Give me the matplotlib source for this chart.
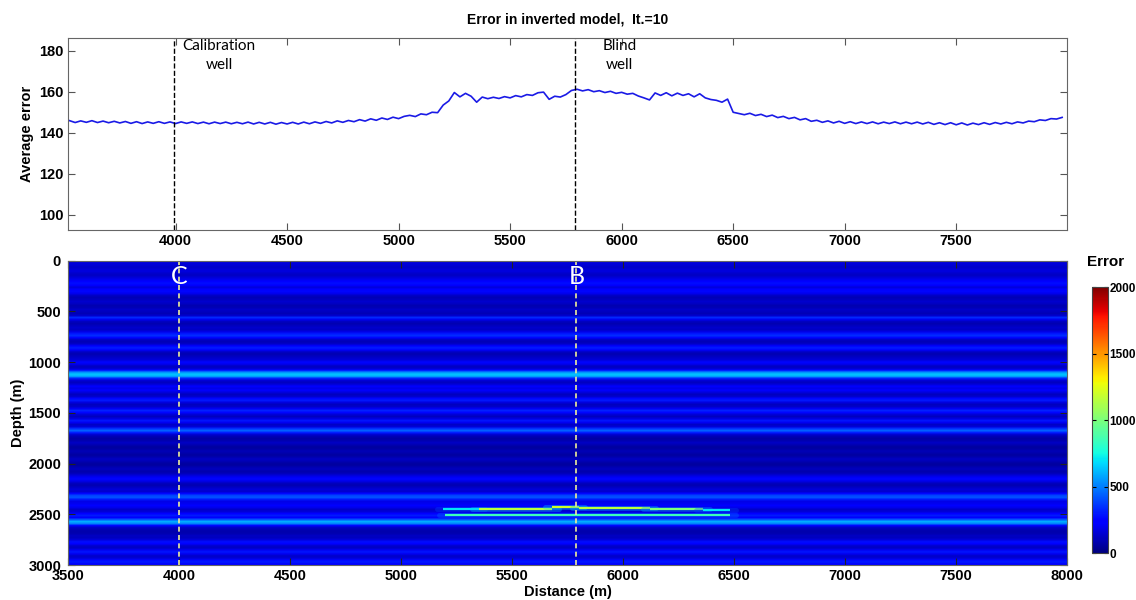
import numpy as np
import matplotlib.pyplot as plt
from matplotlib.colors import Normalize

plt.rcParams['font.family'] = ['Liberation Sans', 'DejaVu Sans']
plt.rcParams['font.weight'] = 'bold'

# average error along the profile, one trace every 25 m from 3525 m
distance = np.arange(3525, 8000, 25)
avg_error = [
    145.9, 145.0, 145.8, 145.1, 145.9, 145.0, 145.7, 144.9, 145.6, 144.8, 145.5,
    144.6, 145.4, 144.5, 145.3, 144.6, 145.4, 144.6, 145.3, 144.5, 145.3,
    144.6, 145.3, 144.5, 145.2, 144.4, 145.2, 144.5, 145.2, 144.4, 145.1,
    144.4, 145.2, 144.3, 145.1, 144.3, 145.1, 144.2, 145.0, 144.3, 145.1,
    144.3, 145.2, 144.4, 145.3, 144.6, 145.5, 144.8, 145.8, 145.1, 146.0,
    145.4, 146.4, 145.7, 146.8, 146.1, 147.2, 146.5, 147.6, 146.9, 148.0,
    148.5, 147.9, 149.2, 148.8, 150.0, 149.8, 153.5, 155.5, 159.6, 157.5,
    159.2, 157.8, 154.9, 157.4, 156.6, 157.3, 156.7, 157.6, 157.0, 158.1,
    157.5, 158.6, 158.2, 159.5, 159.8, 156.3, 157.8, 157.4, 158.6, 160.6,
    161.2, 160.4, 161.0, 160.0, 160.5, 159.6, 160.2, 159.2, 159.7, 158.8,
    159.2, 157.9, 157.0, 156.0, 159.4, 158.2, 159.5, 158.0, 159.3, 158.2,
    159.0, 157.5, 159.0, 157.0, 156.2, 155.8, 154.9, 156.4, 150.0, 149.4,
    148.8, 149.5, 148.4, 149.0, 147.9, 148.6, 147.4, 148.0, 146.9, 147.5,
    146.3, 146.9, 145.6, 146.1, 145.1, 145.8, 144.8, 145.6, 144.6, 145.4,
    144.5, 145.3, 144.5, 145.3, 144.4, 145.2, 144.5, 145.3, 144.4, 145.2,
    144.4, 145.2, 144.3, 145.1, 144.1, 144.9, 144.0, 144.9, 143.9, 144.8,
    143.8, 144.7, 144.0, 144.9, 144.1, 145.0, 144.3, 145.1, 144.4, 145.3,
    144.8, 145.7, 145.4, 146.3, 146.0, 146.9, 146.7, 147.5,
]

# error versus depth, every 20 m from 0 to 3000 m
depth_error = [
    150, 160, 150, 130, 150, 170, 140, 120, 150, 190,
    230, 280, 230, 160, 220, 260, 200, 130, 100, 110,
    140, 120, 90, 100, 130, 110, 100, 140, 330, 200,
    110, 90, 110, 140, 120, 180, 300, 340, 220, 120,
    100, 130, 220, 310, 230, 120, 90, 110, 140, 160,
    260, 200, 120, 130, 260, 520, 640, 600, 330, 160,
    110, 150, 250, 180, 230, 170, 110, 140, 260, 300,
    170, 110, 130, 200, 320, 260, 150, 110, 170, 290,
    200, 120, 160, 350, 450, 300, 140, 90, 70, 90,
    120, 90, 60, 70, 100, 80, 60, 80, 120, 100,
    70, 60, 90, 110, 80, 100, 150, 210, 260, 180,
    110, 90, 120, 160, 130, 220, 380, 420, 300, 180,
    200, 240, 190, 130, 150, 230, 300, 220, 420, 600,
    500, 240, 120, 90, 80, 90, 120, 110, 160, 280,
    230, 140, 120, 200, 290, 200, 130, 150, 260, 300,
    220,
]
depth_step = 20

# high error layer between the wells: start, end, depth, error
layer_x0 = [5190, 5350, 5680, 5800, 6120, 6360, 5200]
layer_x1 = [5350, 5680, 5800, 6120, 6360, 6480, 6480]
layer_depth = [2452, 2443, 2430, 2438, 2452, 2462, 2508]
layer_err = [700, 1150, 1200, 1150, 1000, 700, 850]

calib_x = 3995
blind_x = 5790

fig = plt.figure(figsize=(11.36, 6.0), dpi=100)
ax1 = fig.add_axes([0.0599, 0.6167, 0.8794, 0.3205])
ax2 = fig.add_axes([0.0599, 0.0583, 0.8794, 0.5072])
cax = fig.add_axes([0.9613, 0.0783, 0.0141, 0.4433])

# top: average error
ax1.plot(distance, avg_error, color='#1a1ae6', lw=1.2)
ax1.axvline(calib_x, color='k', ls='--', lw=1)
ax1.axvline(blind_x, color='k', ls='--', lw=1)
ax1.text(4195, 185.5, 'Calibration\nwell', family='Lato', fontweight='normal',
         fontsize=11, ha='center', va='top', linespacing=1.45)
ax1.text(5990, 185.5, 'Blind\nwell', family='Lato', fontweight='normal',
         fontsize=11, ha='center', va='top', linespacing=1.45)
ax1.set_xlim(3518, 7997)
ax1.set_ylim(92.7, 186.3)
ax1.set_xticks(range(4000, 8000, 500))
ax1.set_yticks(range(100, 181, 20))
ax1.set_ylabel('Average error', fontsize=10.5, fontweight='bold', labelpad=4)
ax1.set_title('Error in inverted model,  It.=10', fontsize=10, fontweight='bold', pad=10)

# bottom: error section
cmap = plt.get_cmap('jet')
norm = Normalize(0, 2000)
prof = np.array(depth_error, dtype=float)[:, None]
dmax = depth_step * (len(depth_error) - 1)
im = ax2.imshow(prof, cmap=cmap, norm=norm, aspect='auto', interpolation='bilinear',
                extent=[3500, 8000, dmax, 0])
for x0, x1, d, e in zip(layer_x0, layer_x1, layer_depth, layer_err):
    ax2.plot([x0 - 30, x1 + 30], [d, d], color=cmap(norm(e * 0.55)), lw=3.5, alpha=0.35,
             solid_capstyle='round')
    ax2.plot([x0, x1], [d, d], color=cmap(norm(e)), lw=1.6, solid_capstyle='butt')
for xw, lab in [(calib_x + 5, 'C'), (blind_x, 'B')]:
    ax2.axvline(xw, color='#eeee99', ls=(0, (3, 2)), lw=1.2)
    ax2.text(xw, 155, lab, color='white', family='Lato', fontweight='normal',
             fontsize=18, ha='center', va='center')
ax2.set_xlim(3500, 8000)
ax2.set_ylim(3000, 0)
ax2.set_xticks(range(3500, 8001, 500))
ax2.set_yticks(range(0, 3001, 500))
ax2.set_xlabel('Distance (m)', fontsize=10.5, fontweight='bold', labelpad=1)
ax2.set_ylabel('Depth (m)', fontsize=10.5, fontweight='bold', labelpad=2)

for ax in (ax1, ax2):
    ax.tick_params(direction='in', length=5, top=True, right=True,
                   labelsize=10.5, color='#555555', pad=3)
    for s in ax.spines.values():
        s.set_color('#666666')
ax2.tick_params(color='#222222')
ax2.tick_params(axis='y', pad=5)

cb = fig.colorbar(im, cax=cax, ticks=[0, 500, 1000, 1500, 2000])
cb.outline.set_edgecolor('#444444')
cax.tick_params(direction='in', length=3, left=True, right=True, labelsize=8.5, pad=1)
fig.text(0.957, 0.563, 'Error', fontsize=11, fontweight='bold', ha='left', va='center')

fig.savefig('out.png', dpi=100)
